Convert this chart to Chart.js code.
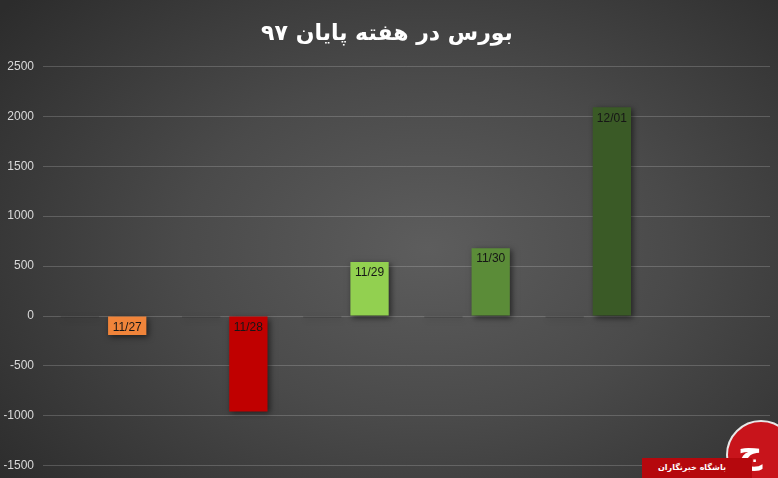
<!DOCTYPE html>
<html lang="fa">
<head>
  <meta charset="UTF-8">
  <title>بورس در هفته پایان ۹۷</title>
  <script src="https://cdn.jsdelivr.net/npm/chart.js"></script>
  <style>
    html, body { margin: 0; padding: 0; }
    body { width: 778px; height: 478px; overflow: hidden; }
    .wrap {
      position: relative; width: 778px; height: 478px; overflow: hidden;
      background: radial-gradient(ellipse 70% 80% at 55% 52%, #5d5d5d 0%, #4a4a4a 45%, #2c2c2c 100%);
    }
    canvas { position: absolute; left: 0; top: 0; }
    .logo-bar {
      position: absolute; left: 642px; top: 458px; width: 110px; height: 20px;
      background: #b5080d; color: #fff; font: bold 8px "DejaVu Sans", sans-serif;
      line-height: 20px; text-align: left; padding-left: 16px; box-sizing: border-box;
    }
    .logo-circle {
      position: absolute; left: 726px; top: 420px; width: 70px; height: 70px;
      border-radius: 50%; background: #c8141b; border: 2px solid #e8e8e8;
      color: #fff; font: bold 34px "DejaVu Sans", sans-serif; line-height: 58px;
      text-indent: 10px; box-sizing: border-box;
    }
  </style>
</head>
<body>
  <div class="wrap">
    <!-- canvas a little taller than the view so the plot reaches down to the -1500 line -->
    <canvas id="chart" width="778" height="482"></canvas>
    <div class="logo-circle">ج</div>
    <div class="logo-bar" dir="rtl">باشگاه خبرنگاران</div>
  </div>

  <script>
    const titleText = 'بورس در هفته پایان ۹۷';
    const days = ['11/27', '11/28', '11/29', '11/30', '12/01'];
    const changes = [-190, -955, 540, 680, 2090];
    const shadowVals = [-15, -15, -15, -15, -15];
    const barColors = ['#f0843a', '#c00000', '#92d050', '#5b8c38', '#3a5a26'];
    const yTicks = { min: -1500, max: 2500, step: 500 };

    // extra empty slot on the right, like the original plot area
    const labels = [...days, ''];

    const shadowPlugin = {
      id: 'barShadow',
      beforeDatasetsDraw(chart) {
        const ctx = chart.ctx;
        ctx.save();
        ctx.shadowColor = 'rgba(0,0,0,0.55)';
        ctx.shadowBlur = 6;
        ctx.shadowOffsetX = 2;
        ctx.shadowOffsetY = 2;
      },
      afterDatasetsDraw(chart) {
        chart.ctx.restore();
      }
    };

    const barLabels = {
      id: 'barLabels',
      afterDatasetsDraw(chart) {
        const ctx = chart.ctx;
        const meta = chart.getDatasetMeta(1);
        ctx.save();
        ctx.font = '12px "Liberation Sans", sans-serif';
        ctx.fillStyle = '#161616';
        ctx.textAlign = 'center';
        ctx.textBaseline = 'middle';
        meta.data.forEach((bar, i) => {
          if (i >= days.length) return;
          const top = Math.min(bar.y, bar.base);
          ctx.fillText(days[i], bar.x, top + 11);
        });
        ctx.restore();
      }
    };

    new Chart(document.getElementById('chart'), {
      type: 'bar',
      data: {
        labels: labels,
        datasets: [
          {
            label: 'shadow',
            data: shadowVals,
            backgroundColor: 'rgba(40,40,40,0.5)',
            categoryPercentage: 0.78,
            barPercentage: 0.81
          },
          {
            label: 'change',
            data: changes,
            backgroundColor: barColors,
            categoryPercentage: 0.78,
            barPercentage: 0.81
          }
        ]
      },
      options: {
        responsive: false,
        animation: false,
        layout: { padding: { left: 4, right: 8, bottom: 0 } },
        plugins: {
          legend: { display: false },
          tooltip: { enabled: false },
          title: {
            display: true,
            text: titleText,
            color: '#ffffff',
            font: { family: '"DejaVu Sans", sans-serif', size: 22, weight: 'bold' },
            padding: { top: 21, bottom: 19 }
          }
        },
        scales: {
          x: {
            display: false,
            grid: { display: false }
          },
          y: {
            min: yTicks.min,
            max: yTicks.max,
            afterFit: scale => { scale.width = 39; },
            ticks: {
              stepSize: yTicks.step,
              color: '#d9d9d9',
              font: { family: '"Liberation Sans", sans-serif', size: 12 },
              padding: 9,
              callback: v => String(v)
            },
            grid: { color: 'rgba(255,255,255,0.18)', drawTicks: false },
            border: { display: false }
          }
        }
      },
      plugins: [shadowPlugin, barLabels]
    });
  </script>
</body>
</html>
